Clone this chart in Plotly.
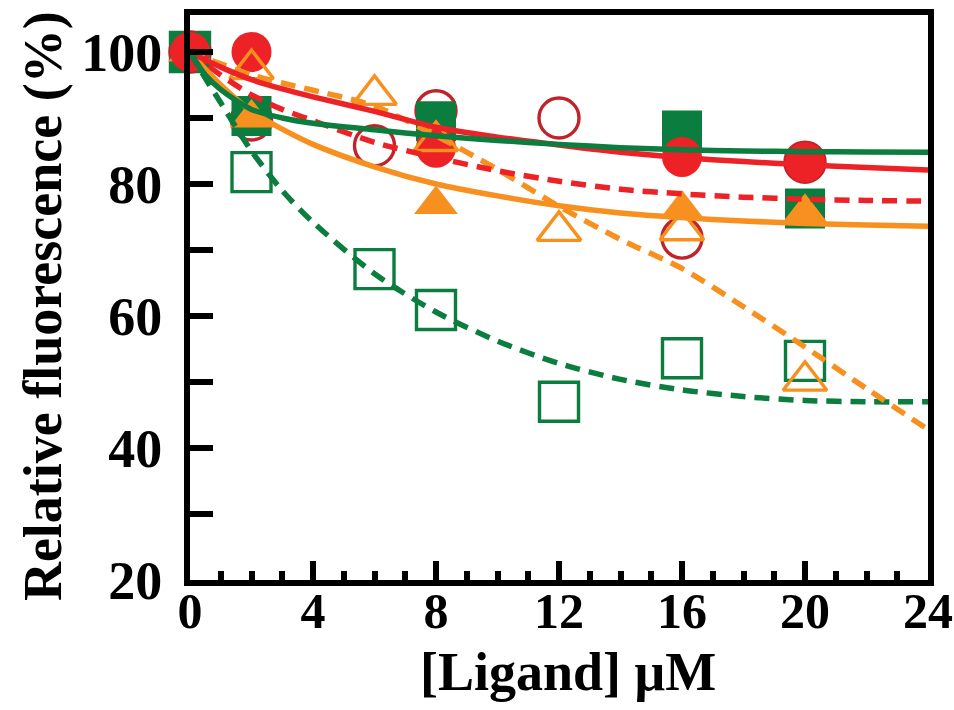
import plotly.graph_objects as go

# ---- data ----
x_pts = [0, 2, 6, 8, 12, 16, 20]
x_filled = [0, 2, 8, 16, 20]
x_open_tri = [2, 6, 8, 12, 16, 20]

green_filled_y = [100, 90.3, 89.5, 88.1, 76.3]
red_filled_y = [100, 100, 85.5, 84.1, 83.3]
orange_filled_y = [100, 90.0, 76.9, 76.2, 75.7]

green_open_y = [100, 81.8, 67.1, 60.9, 47.0, 53.6, 53.2]
red_open_y = [100, 89.7, 85.8, 91.1, 90.0, 71.8, 83.3]
orange_open_y = [97.4, 93.5, 86.5, 72.9, 73.0, 50.2]

# fitted curves
fit_x = [0, 0.5, 1, 2, 3, 4, 6, 8, 10, 12, 14, 16, 18, 20, 22, 24]
green_solid = [100, 96.5, 94.3, 91.3, 90.0, 89.2, 88.2, 87.3, 86.6, 86.0, 85.5, 85.2, 85.0, 84.9, 84.85, 84.8]
red_solid = [100, 98.8, 97.7, 95.8, 94.4, 93.2, 91.0, 88.6, 87.1, 85.9, 84.8, 84.0, 83.4, 82.9, 82.5, 82.1]
orange_solid = [100, 97.4, 95.0, 91.0, 88.3, 86.0, 82.6, 80.0, 78.2, 76.7, 75.6, 74.9, 74.4, 74.0, 73.8, 73.6]
green_dashed = [100, 96.0, 92.3, 85.0, 79.0, 74.2, 66.4, 60.6, 56.2, 52.8, 50.4, 48.8, 47.8, 47.2, 47.0, 47.0]
red_dashed = [100, 98.2, 96.5, 93.5, 91.3, 89.6, 86.3, 84.0, 82.0, 80.4, 79.2, 78.5, 78.0, 77.7, 77.5, 77.4]
orange_dashed = [100, 99.0, 98.2, 96.5, 95.3, 94.2, 91.8, 87.3, 82.2, 76.6, 71.6, 67.2, 61.4, 55.3, 49.0, 42.8]

x_ticks = [0, 4, 8, 12, 16, 20, 24]
y_ticks = [20, 40, 60, 80, 100]

GREEN = "#0b7d3e"
RED = "#ec2227"
RED_DARK = "#c1232b"
ORANGE = "#f7901e"

FONT = "Liberation Serif"

fig = go.Figure()

def markers(x, y, symbol, color, size, open_=False):
    fig.add_trace(go.Scatter(
        x=x, y=y, mode="markers", showlegend=False, cliponaxis=False,
        marker=dict(symbol=symbol, size=size, color=color,
                    line=dict(width=3.4 if open_ else 0, color=color))))

def curve(y, color, dash):
    fig.add_trace(go.Scatter(
        x=fit_x, y=y, mode="lines", showlegend=False,
        line=dict(color=color, width=5.5, dash=dash, shape="spline", smoothing=0.8)))

markers(x_pts, green_open_y, "square-open", GREEN, 39, True)
markers(x_pts, red_open_y, "circle-open", RED_DARK, 40, True)
markers(x_filled, green_filled_y, "square", GREEN, 40)
markers(x_filled, orange_filled_y, "triangle-up", ORANGE, 38)
markers(x_filled, red_filled_y, "circle", RED, 40)
markers(x_open_tri, orange_open_y, "triangle-up-open", ORANGE, 38, True)

DASH = "15px,9px"
curve(green_dashed, GREEN, DASH)
curve(orange_dashed, ORANGE, DASH)
curve(red_dashed, RED, DASH)
curve(orange_solid, ORANGE, "solid")
curve(red_solid, RED, "solid")
curve(green_solid, GREEN, "solid")

xtickfont = dict(family=FONT, size=50, color="black", weight="bold")
ytickfont = dict(family=FONT, size=54, color="black", weight="bold")
titlefont = dict(family=FONT, size=54, color="black", weight="bold")

fig.update_layout(
    width=954, height=710,
    margin=dict(l=190, r=26, t=15, b=130),
    paper_bgcolor="white", plot_bgcolor="white",
    xaxis=dict(
        range=[0, 24], tickvals=x_ticks, ticktext=[str(v) for v in x_ticks],
        ticks="inside", ticklen=19, tickwidth=6, tickcolor="black",
        minor=dict(dtick=1, tick0=0, ticks="inside", ticklen=9, tickwidth=6, tickcolor="black"),
        showline=True, linewidth=6, linecolor="black", mirror=True,
        showgrid=False, zeroline=False, tickfont=xtickfont, automargin=False,
        ticklabelstandoff=-18, ticklabeloverflow="allow",
    ),
    yaxis=dict(
        range=[20, 105.6], tickvals=y_ticks, ticktext=[str(v) for v in y_ticks],
        ticks="inside", ticklen=23, tickwidth=6, tickcolor="black",
        minor=dict(dtick=10, tick0=0, ticks="inside", ticklen=23, tickwidth=6, tickcolor="black"),
        showline=True, linewidth=6, linecolor="black", mirror=True,
        showgrid=False, zeroline=False, tickfont=ytickfont, automargin=False,
        ticklabelstandoff=11, ticklabeloverflow="allow",
    ),
    annotations=[
        dict(text="[Ligand] μM", xref="paper", yref="paper", x=0.512, y=-0.163,
             xanchor="center", yanchor="middle", showarrow=False, font=titlefont),
        dict(text="Relative fluorescence (%)", xref="paper", yref="paper", x=-0.199, y=0.485,
             xanchor="center", yanchor="middle", textangle=-90, showarrow=False, font=titlefont),
    ],
)

fig.write_html("out.html")
